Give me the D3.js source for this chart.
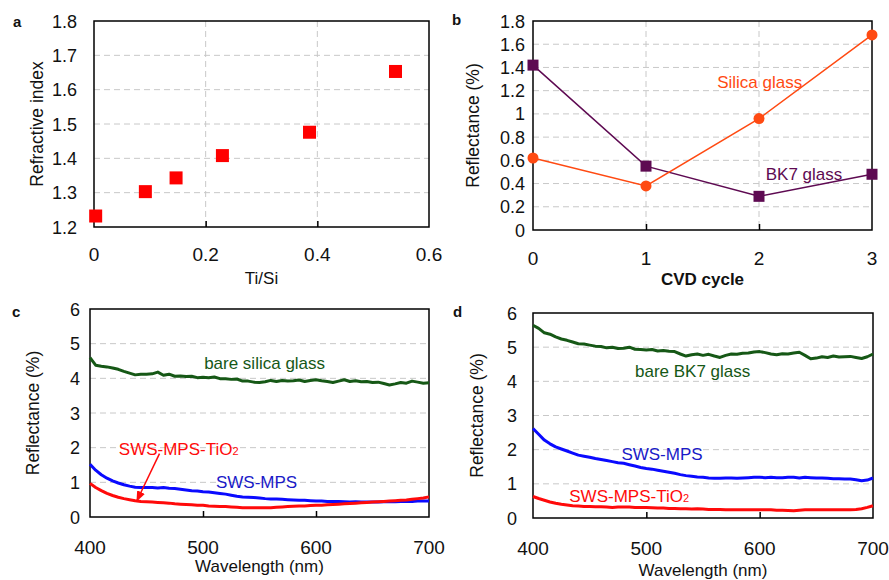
<!DOCTYPE html>
<html lang="en">
  <head>
    <meta charset="UTF-8">
    <title>Refractive index and reflectance</title>
    <script src="https://d3js.org/d3.v7.min.js"></script>
    <style>
      body { margin: 0; background: #fff; }
      svg text { font-family: "Liberation Sans", Arial, sans-serif; fill: #111; }
      .grid line { stroke: #c8c8c8; stroke-dasharray: 6,4; }
    </style>
  </head>
  <body>
    <script>
      // panel a
      const tiSi = [0.003, 0.092, 0.147, 0.230, 0.386, 0.540];
      const refIndex = [1.232, 1.303, 1.343, 1.408, 1.476, 1.653];

      // panel b
      const cycles = [0, 1, 2, 3];
      const silicaRefl = [0.62, 0.38, 0.96, 1.68];
      const bk7Refl = [1.42, 0.55, 0.29, 0.48];

      // panels c and d
      const wavelength = [400,405,410,415,420,425,430,435,440,445,450,455,460,465,470,475,480,485,490,495,
                          500,505,510,515,520,525,530,535,540,545,550,555,560,565,570,575,580,585,590,595,
                          600,605,610,615,620,625,630,635,640,645,650,655,660,665,670,675,680,685,690,695,700];

      const cBare = [4.60,4.38,4.35,4.33,4.30,4.26,4.20,4.15,4.10,4.12,4.12,4.13,4.18,4.09,4.12,4.06,4.07,4.05,4.06,4.02,
                     4.03,4.02,4.04,3.99,3.99,3.97,3.98,3.92,3.92,3.89,3.88,3.90,3.94,3.91,3.94,3.92,3.93,3.95,3.91,3.94,
                     3.96,3.93,3.91,3.88,3.92,3.96,3.91,3.93,3.90,3.91,3.88,3.89,3.85,3.81,3.84,3.88,3.86,3.92,3.89,3.86,3.87];
      const cMps = [1.52,1.35,1.22,1.12,1.04,0.98,0.93,0.89,0.86,0.85,0.85,0.85,0.84,0.85,0.83,0.82,0.80,0.78,0.76,0.75,
                    0.73,0.72,0.70,0.68,0.66,0.63,0.60,0.58,0.57,0.56,0.55,0.53,0.52,0.52,0.51,0.50,0.49,0.48,0.48,0.47,
                    0.46,0.46,0.45,0.45,0.45,0.44,0.43,0.44,0.43,0.43,0.43,0.43,0.44,0.44,0.44,0.45,0.45,0.45,0.46,0.46,0.46];
      const cTio = [0.97,0.85,0.76,0.68,0.62,0.57,0.53,0.50,0.47,0.45,0.44,0.43,0.42,0.41,0.40,0.38,0.37,0.36,0.35,0.34,
                    0.34,0.32,0.31,0.30,0.30,0.29,0.28,0.27,0.27,0.27,0.27,0.27,0.27,0.28,0.29,0.30,0.31,0.32,0.32,0.33,
                    0.34,0.34,0.35,0.36,0.37,0.38,0.39,0.40,0.41,0.42,0.43,0.44,0.45,0.46,0.47,0.48,0.49,0.51,0.53,0.55,0.58];

      const dBare = [5.64,5.55,5.42,5.38,5.30,5.24,5.20,5.15,5.10,5.09,5.06,5.03,5.02,4.98,5.00,4.96,4.97,5.00,4.94,4.93,
                     4.92,4.93,4.89,4.90,4.88,4.87,4.80,4.74,4.78,4.80,4.76,4.79,4.74,4.70,4.76,4.80,4.79,4.82,4.83,4.86,
                     4.87,4.84,4.80,4.78,4.81,4.80,4.83,4.85,4.76,4.66,4.68,4.72,4.70,4.74,4.71,4.72,4.73,4.70,4.67,4.72,4.80];
      const dMps = [2.62,2.45,2.28,2.17,2.08,2.02,1.96,1.90,1.84,1.81,1.78,1.74,1.71,1.68,1.65,1.62,1.60,1.56,1.52,1.48,
                    1.45,1.43,1.40,1.37,1.34,1.31,1.27,1.24,1.22,1.20,1.19,1.17,1.16,1.16,1.17,1.17,1.16,1.17,1.18,1.19,
                    1.19,1.18,1.19,1.18,1.18,1.19,1.19,1.17,1.19,1.18,1.17,1.17,1.16,1.15,1.15,1.14,1.14,1.12,1.09,1.11,1.17];
      const dTio = [0.63,0.57,0.52,0.47,0.43,0.40,0.38,0.36,0.35,0.34,0.34,0.33,0.33,0.32,0.31,0.32,0.32,0.32,0.31,0.31,
                    0.31,0.30,0.29,0.29,0.28,0.28,0.27,0.27,0.26,0.27,0.26,0.25,0.25,0.25,0.24,0.24,0.24,0.24,0.24,0.24,
                    0.24,0.24,0.24,0.23,0.23,0.22,0.21,0.23,0.24,0.24,0.24,0.24,0.24,0.24,0.24,0.24,0.24,0.25,0.27,0.31,0.36];

      const aYTicks = [1.2, 1.3, 1.4, 1.5, 1.6, 1.7, 1.8];
      const aXTicks = [0, 0.2, 0.4, 0.6];
      const bYTicks = [0, 0.2, 0.4, 0.6, 0.8, 1, 1.2, 1.4, 1.6, 1.8];
      const wlTicks = [400, 500, 600, 700];
      const reflTicks = [0, 1, 2, 3, 4, 5, 6];

      const green = "#165816", blue = "#0a0aff", red = "#ff0a0a";
      const orange = "#ff4a12", purple = "#5e0a52";

      const svg = d3.select("body").append("svg")
          .attr("width", 889)
          .attr("height", 580);

      // draws frame, grid, ticks and labels of one panel and returns its scales
      function panel(o) {
        const x = d3.scaleLinear().domain(o.xd).range([o.l, o.r]);
        const y = d3.scaleLinear().domain(o.yd).range([o.b, o.t]);
        const g = svg.append("g");

        const grid = g.append("g").attr("class", "grid");
        grid.selectAll(".hy").data(o.yt.slice(1, -1)).enter().append("line")
            .attr("x1", o.l).attr("x2", o.r)
            .attr("y1", d => y(d)).attr("y2", d => y(d));
        if (o.vgrid) {
          grid.selectAll(".vx").data(o.xt.slice(1, -1)).enter().append("line")
              .attr("y1", o.t).attr("y2", o.b)
              .attr("x1", d => x(d)).attr("x2", d => x(d));
        }

        // small inward ticks on the bottom edge
        const xAxis = d3.axisTop(x).tickValues(o.xt.slice(1, -1)).tickSize(6).tickFormat("");
        g.append("g").attr("transform", `translate(0,${o.b})`).call(xAxis)
            .call(s => s.select(".domain").remove())
            .selectAll("line").attr("stroke", "#000").attr("stroke-width", 1.5);

        g.append("rect")
            .attr("x", o.l).attr("y", o.t)
            .attr("width", o.r - o.l).attr("height", o.b - o.t)
            .attr("fill", "none").attr("stroke", "#000").attr("stroke-width", 1.5);

        g.selectAll(".yl").data(o.yt).enter().append("text")
            .attr("x", o.l - o.ypad)
            .attr("y", d => y(d) + 6.5)
            .attr("text-anchor", "end")
            .style("font-size", "18px")
            .text(d => d);

        g.selectAll(".xl").data(o.xt).enter().append("text")
            .attr("x", d => x(d))
            .attr("y", o.xly)
            .attr("text-anchor", "middle")
            .style("font-size", "19px")
            .text(d => d);

        g.append("text")
            .attr("x", (o.l + o.r) / 2)
            .attr("y", o.xty)
            .attr("text-anchor", "middle")
            .style("font-size", "17px")
            .style("font-weight", o.xbold ? "bold" : "normal")
            .text(o.xtitle);

        g.append("text")
            .attr("transform", `translate(${o.ytx},${(o.t + o.b) / 2}) rotate(-90)`)
            .attr("text-anchor", "middle")
            .attr("dy", "0.35em")
            .style("font-size", "17.5px")
            .text(o.ytitle);

        g.append("text")
            .attr("x", o.lx).attr("y", o.ly)
            .style("font-size", "15px")
            .style("font-weight", "bold")
            .text(o.letter);

        return { x, y, g };
      }

      function curve(p, values, color) {
        const line = d3.line()
            .x((d, i) => p.x(wavelength[i]))
            .y(d => p.y(d));
        p.g.append("path")
            .datum(values)
            .attr("d", line)
            .attr("fill", "none")
            .attr("stroke", color)
            .attr("stroke-width", 3)
            .attr("stroke-linejoin", "round");
      }

      function label(p, xv, yv, txt, color, sub) {
        const t = p.g.append("text")
            .attr("x", p.x(xv)).attr("y", p.y(yv))
            .style("font-size", "17px")
            .style("fill", color)
            .text(txt);
        if (sub) t.append("tspan").style("font-size", "11px").style("fill", color).text(sub);
      }

      // ---- a ----
      const pa = panel({ l: 94, r: 429, t: 21, b: 227, xd: [0, 0.6], yd: [1.2, 1.8],
                         xt: aXTicks, yt: aYTicks, vgrid: true, ypad: 17, xly: 261, xty: 284,
                         xtitle: "Ti/Si", ytitle: "Refractive index", ytx: 37, letter: "a", lx: 13, ly: 27 });
      pa.g.selectAll(".pt").data(tiSi).enter().append("rect")
          .attr("x", d => pa.x(d) - 6.5)
          .attr("y", (d, i) => pa.y(refIndex[i]) - 6.5)
          .attr("width", 13).attr("height", 13)
          .attr("fill", "#ff0000");

      // ---- b ----
      const pb = panel({ l: 533, r: 872, t: 21, b: 230, xd: [0, 3], yd: [0, 1.8],
                         xt: cycles, yt: bYTicks, vgrid: true, ypad: 8, xly: 265, xty: 285, xbold: true,
                         xtitle: "CVD cycle", ytitle: "Reflectance (%)", ytx: 473, letter: "b", lx: 452, ly: 25 });
      const bLine = vals => d3.line().x((d, i) => pb.x(cycles[i])).y(d => pb.y(d))(vals);
      pb.g.append("path").attr("d", bLine(bk7Refl))
          .attr("fill", "none").attr("stroke", purple).attr("stroke-width", 1.5);
      pb.g.append("path").attr("d", bLine(silicaRefl))
          .attr("fill", "none").attr("stroke", orange).attr("stroke-width", 1.5);
      pb.g.selectAll(".sq").data(bk7Refl).enter().append("rect")
          .attr("x", (d, i) => pb.x(cycles[i]) - 5.5)
          .attr("y", d => pb.y(d) - 5.5)
          .attr("width", 11).attr("height", 11)
          .attr("fill", purple);
      pb.g.selectAll(".ci").data(silicaRefl).enter().append("circle")
          .attr("cx", (d, i) => pb.x(cycles[i]))
          .attr("cy", d => pb.y(d))
          .attr("r", 5.5)
          .attr("fill", orange);
      label(pb, 1.63, 1.225, "Silica glass", orange);
      label(pb, 2.06, 0.43, "BK7 glass", purple);

      // ---- c ----
      const pc = panel({ l: 90, r: 429, t: 309, b: 517, xd: [400, 700], yd: [0, 6],
                         xt: wlTicks, yt: reflTicks, ypad: 10, xly: 554, xty: 572,
                         xtitle: "Wavelength (nm)", ytitle: "Reflectance (%)", ytx: 33, letter: "c", lx: 12, ly: 317 });
      curve(pc, cBare, green);
      curve(pc, cMps, blue);
      curve(pc, cTio, red);
      label(pc, 501, 4.27, "bare silica glass", green);
      label(pc, 425.5, 1.78, "SWS-MPS-TiO", red, "2");
      label(pc, 511.5, 0.83, "SWS-MPS", "#1a1ac8");

      svg.append("defs").append("marker")
          .attr("id", "head")
          .attr("viewBox", "0 0 10 10")
          .attr("refX", 9).attr("refY", 5)
          .attr("markerWidth", 7).attr("markerHeight", 7)
          .attr("orient", "auto")
          .append("path").attr("d", "M0,1L10,5L0,9z").attr("fill", red);
      pc.g.append("line")
          .attr("x1", pc.x(461.5)).attr("y1", pc.y(1.83))
          .attr("x2", pc.x(441.5)).attr("y2", pc.y(0.47))
          .attr("stroke", red).attr("stroke-width", 1.5)
          .attr("marker-end", "url(#head)");

      // ---- d ----
      const pd = panel({ l: 533, r: 873, t: 313, b: 518, xd: [400, 700], yd: [0, 6],
                         xt: wlTicks, yt: reflTicks, ypad: 16, xly: 555, xty: 576,
                         xtitle: "Wavelength (nm)", ytitle: "Reflectance (%)", ytx: 477, letter: "d", lx: 453, ly: 317 });
      curve(pd, dBare, green);
      curve(pd, dMps, blue);
      curve(pd, dTio, red);
      label(pd, 490, 4.12, "bare BK7 glass", green);
      label(pd, 478, 1.69, "SWS-MPS", "#1a1ac8");
      label(pd, 432, 0.46, "SWS-MPS-TiO", red, "2");
    </script>
  </body>
</html>
